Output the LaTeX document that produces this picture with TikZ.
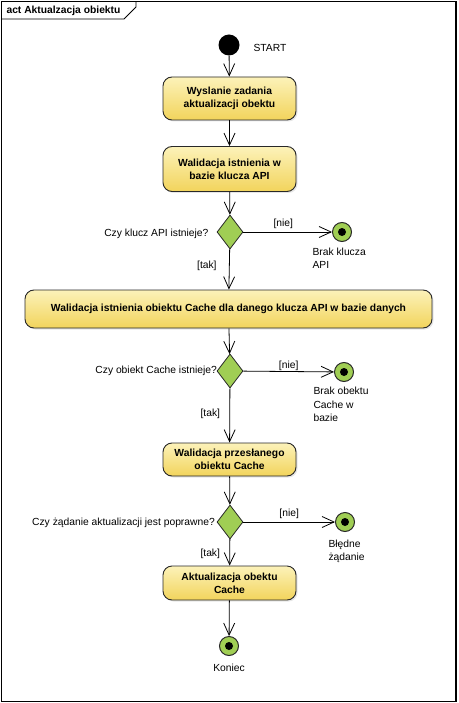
\documentclass[tikz,border=0pt]{standalone}
\usepackage{fontspec}
\setmainfont{Liberation Sans}
\usetikzlibrary{arrows.meta,shapes.geometric,shadows}

\definecolor{akcjagora}{RGB}{252,242,185}
\definecolor{akcjadol}{RGB}{242,212,92}
\definecolor{zielony}{RGB}{160,206,84}
\definecolor{ramka}{RGB}{40,40,40}

\begin{document}
\begin{tikzpicture}[x=1pt,y=-1pt,
    every node/.style={font=\fontsize{10.3}{13}\selectfont},
    akcja/.style={rectangle, rounded corners=9pt, draw=ramka, line width=0.9pt,
        top color=akcjagora, bottom color=akcjadol, align=center,
        minimum width=133pt, inner sep=2pt,
        drop shadow={opacity=0.2, shadow xshift=1.5pt, shadow yshift=-1.5pt},
        font=\bfseries\fontsize{10.3}{13}\selectfont},
    decyzja/.style={diamond, draw=ramka, line width=0.8pt, fill=zielony,
        minimum width=26pt, minimum height=34pt, inner sep=0pt},
    koniecnode/.style={circle, draw=ramka, line width=1pt, fill=zielony,
        minimum size=19pt, inner sep=0pt,
        path picture={\fill[black] (path picture bounding box.center) circle (4pt);}},
    poczatek/.style={circle, fill=black, minimum size=21pt, inner sep=0pt},
    opis/.style={align=left, anchor=north west},
    przejscie/.style={draw, line width=0.8pt, -{Straight Barb[length=12pt,width=11pt]}}
  ]
  \useasboundingbox (0,0) rectangle (458,703);

  % ramka diagramu
  \draw[line width=1.2pt] (1.5,1.5) rectangle (456,701.5);
  \draw[line width=0.8pt] (1.5,19) -- (124,19) -- (136,7) -- (136,1.5);
  \node[anchor=west, font=\bfseries\fontsize{10.3}{12}\selectfont] (tytul) at (3,11) {act Aktualzacja obiektu};

  % wezly
  \node[poczatek] (start) at (229,45) {};
  \node[anchor=west] (starttxt) at (250,48) {START};

  \node[akcja, minimum height=43pt] (wyslanie) at (229.5,98.5) {Wyslanie zadania\\aktualizacji obektu};
  \node[akcja, minimum height=45pt] (walklucz) at (229.5,169) {Walidacja istnienia w\\bazie klucza API};

  \node[decyzja] (czyklucz) at (230,232) {};
  \node[anchor=east] (czykluczpyt) at (212,234) {Czy klucz API istnieje?};
  \node[koniecnode] (brakklucza) at (342,232) {};
  \node[opis] (brakkluczatxt) at (309,245) {Brak klucza\\API};

  \node[akcja, minimum width=407pt, minimum height=38pt] (walobiekt) at (228.5,309) {Walidacja istnienia obiektu Cache dla danego klucza API w bazie danych};

  \node[decyzja] (czyobiekt) at (230,371) {};
  \node[anchor=east, inner xsep=0pt] (czyobiektpyt) at (217,371) {Czy obiekt Cache istnieje?};
  \node[koniecnode] (brakobiektu) at (344,372) {};
  \node[opis] (brakobiektutxt) at (310,384) {Brak obektu\\Cache w\\bazie};

  \node[akcja, minimum height=33pt] (walcache) at (229.5,459.5) {Walidacja przesłanego\\obiektu Cache};

  \node[decyzja] (czypoprawne) at (230,522) {};
  \node[anchor=east, inner xsep=0pt] (czypoprawnepyt) at (215,523) {Czy żądanie aktualizacji jest poprawne?};
  \node[koniecnode] (bledne) at (345,522) {};
  \node[opis] (bledneopis) at (325,536) {Błędne\\żądanie};

  \node[akcja, minimum height=34pt] (aktualizacja) at (229.5,583) {Aktualizacja obektu\\Cache};

  \node[koniecnode] (koniec) at (229,646) {};
  \node (koniectxt) at (229,668) {Koniec};

  % przejscia
  \path[przejscie] (start) -- (wyslanie);
  \path[przejscie] (wyslanie) -- (walklucz);
  \path[przejscie] (walklucz) -- (czyklucz);
  \path[przejscie] (czyklucz) -- node[pos=0.45, above] {[nie]} (brakklucza);
  \path[przejscie] (czyklucz) -- node[pos=0.42, left, xshift=-9pt] {[tak]} (walobiekt);
  \path[przejscie] (walobiekt) -- (czyobiekt);
  \path[przejscie] (czyobiekt) -- node[pos=0.5, above, yshift=-3pt] {[nie]} (brakobiektu);
  \path[przejscie] (czyobiekt) -- node[pos=0.48, left, xshift=-6pt] {[tak]} (walcache);
  \path[przejscie] (walcache) -- (czypoprawne);
  \path[przejscie] (czypoprawne) -- node[pos=0.5, above] {[nie]} (bledne);
  \path[przejscie] (czypoprawne) -- node[pos=0.57, left, xshift=-6pt] {[tak]} (aktualizacja);
  \path[przejscie] (aktualizacja) -- (koniec);
\end{tikzpicture}
\end{document}
